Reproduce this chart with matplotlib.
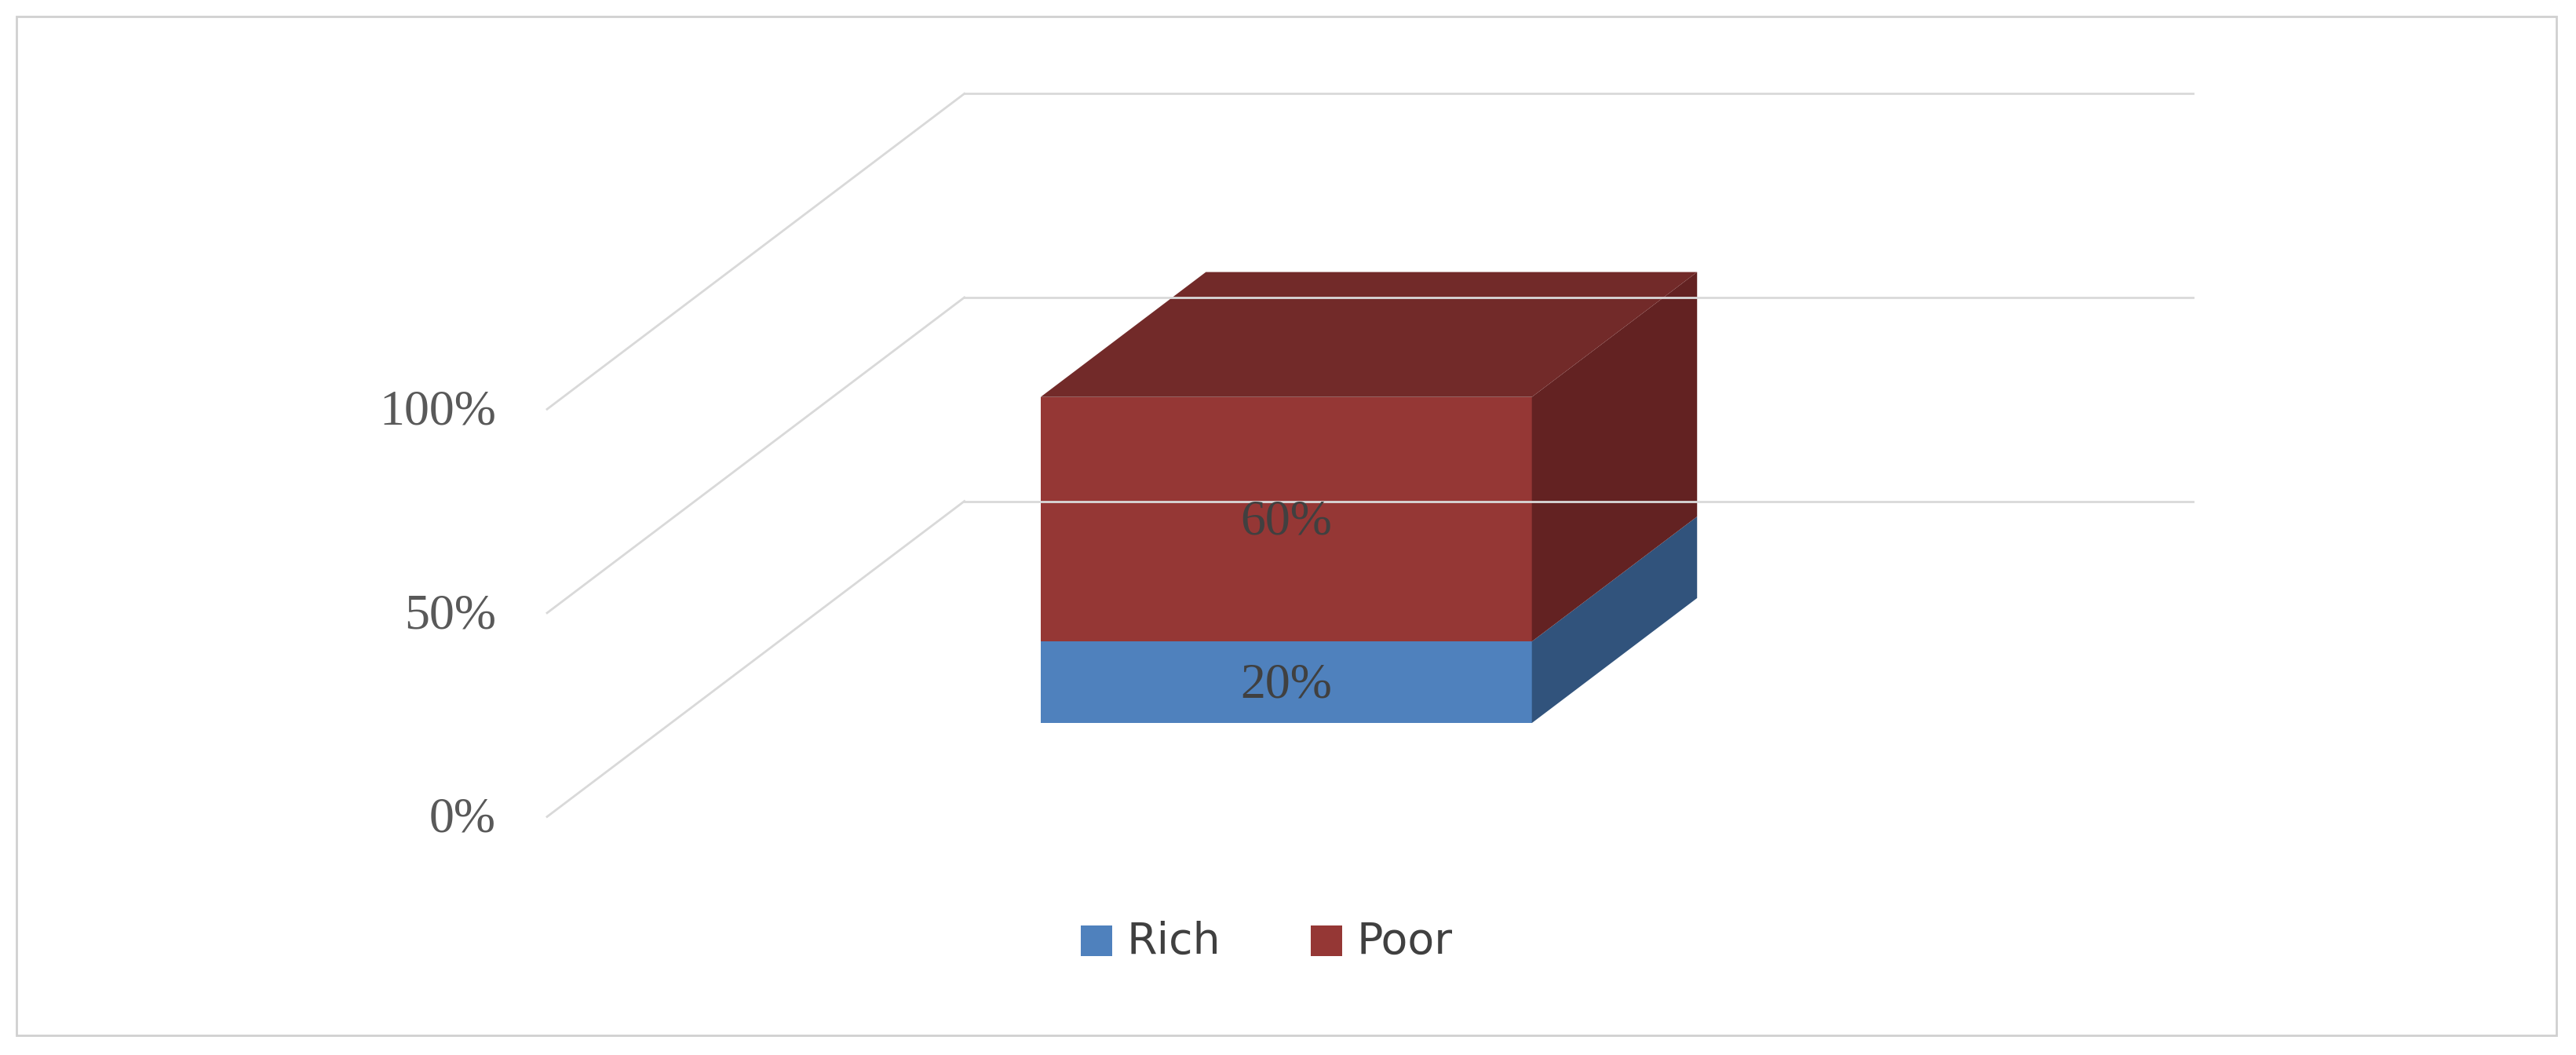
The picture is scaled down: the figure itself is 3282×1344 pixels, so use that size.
import matplotlib
matplotlib.use("Agg")
import matplotlib.pyplot as plt
from matplotlib.patches import Polygon, Rectangle

series = ["Rich", "Poor"]
values = [20, 60]
front_colors = ["#4F81BD", "#953735"]
top_colors = ["#3F6797", "#722A29"]
side_colors = ["#31537C", "#632222"]
ticks = [0, 50, 100]
tick_labels = ["0%", "50%", "100%"]

W, H = 1568, 642
fig = plt.figure(figsize=(32.82, 13.44), dpi=100)
ax = fig.add_axes([0, 0, 1, 1])
ax.set_xlim(0, W); ax.set_ylim(H, 0); ax.axis("off")

Y0, PX, DY, DX = 497, 2.48, 192, 254
def pt(x, v, d):
    return (x + DX * d, Y0 - PX * v - DY * d)

# frame
ax.add_patch(Rectangle((10, 10), 1546, 620, fill=False, ec="#D0D0D0", lw=2))
# gridlines
for t, lab in zip(ticks, tick_labels):
    a = pt(333, t, 0); b = pt(333, t, 1)
    ax.plot([a[0], b[0]], [a[1], b[1]], color="#D9D9D9", lw=2)
    ax.plot([b[0], 1335], [b[1], b[1]], color="#D9D9D9", lw=2)
    ax.text(302, a[1] + 2, lab, ha="right", va="center", fontsize=46,
            family="Liberation Serif", color="#595959")

# bar
x0, x1, d0, d1 = 558, 857, 0.297, 0.693
base = 0
for v, fc, tc, sc in zip(values, front_colors, top_colors, side_colors):
    lo, hi = base, base + v
    ax.add_patch(Polygon([pt(x0, lo, d0), pt(x1, lo, d0), pt(x1, hi, d0), pt(x0, hi, d0)], color=fc, lw=0))
    ax.add_patch(Polygon([pt(x1, lo, d0), pt(x1, lo, d1), pt(x1, hi, d1), pt(x1, hi, d0)], color=sc, lw=0))
    cx, cy = pt((x0 + x1) / 2, (lo + hi) / 2, d0)
    ax.text(cx, cy + 2, f"{v}%", ha="center", va="center", fontsize=46,
            family="Liberation Serif", color="#404040")
    base = hi
ax.add_patch(Polygon([pt(x0, base, d0), pt(x1, base, d0), pt(x1, base, d1), pt(x0, base, d1)], color=top_colors[-1], lw=0))

# legend
for i, (s, c) in enumerate(zip(series, front_colors)):
    lx = 658 + i * 140
    ax.add_patch(Rectangle((lx, 563), 19, 19, color=c, lw=0))
    ax.text(lx + 28, 573, s, ha="left", va="center", fontsize=40,
            family="DejaVu Sans", color="#404040")

fig.savefig("out.png", dpi=100, facecolor="white")
